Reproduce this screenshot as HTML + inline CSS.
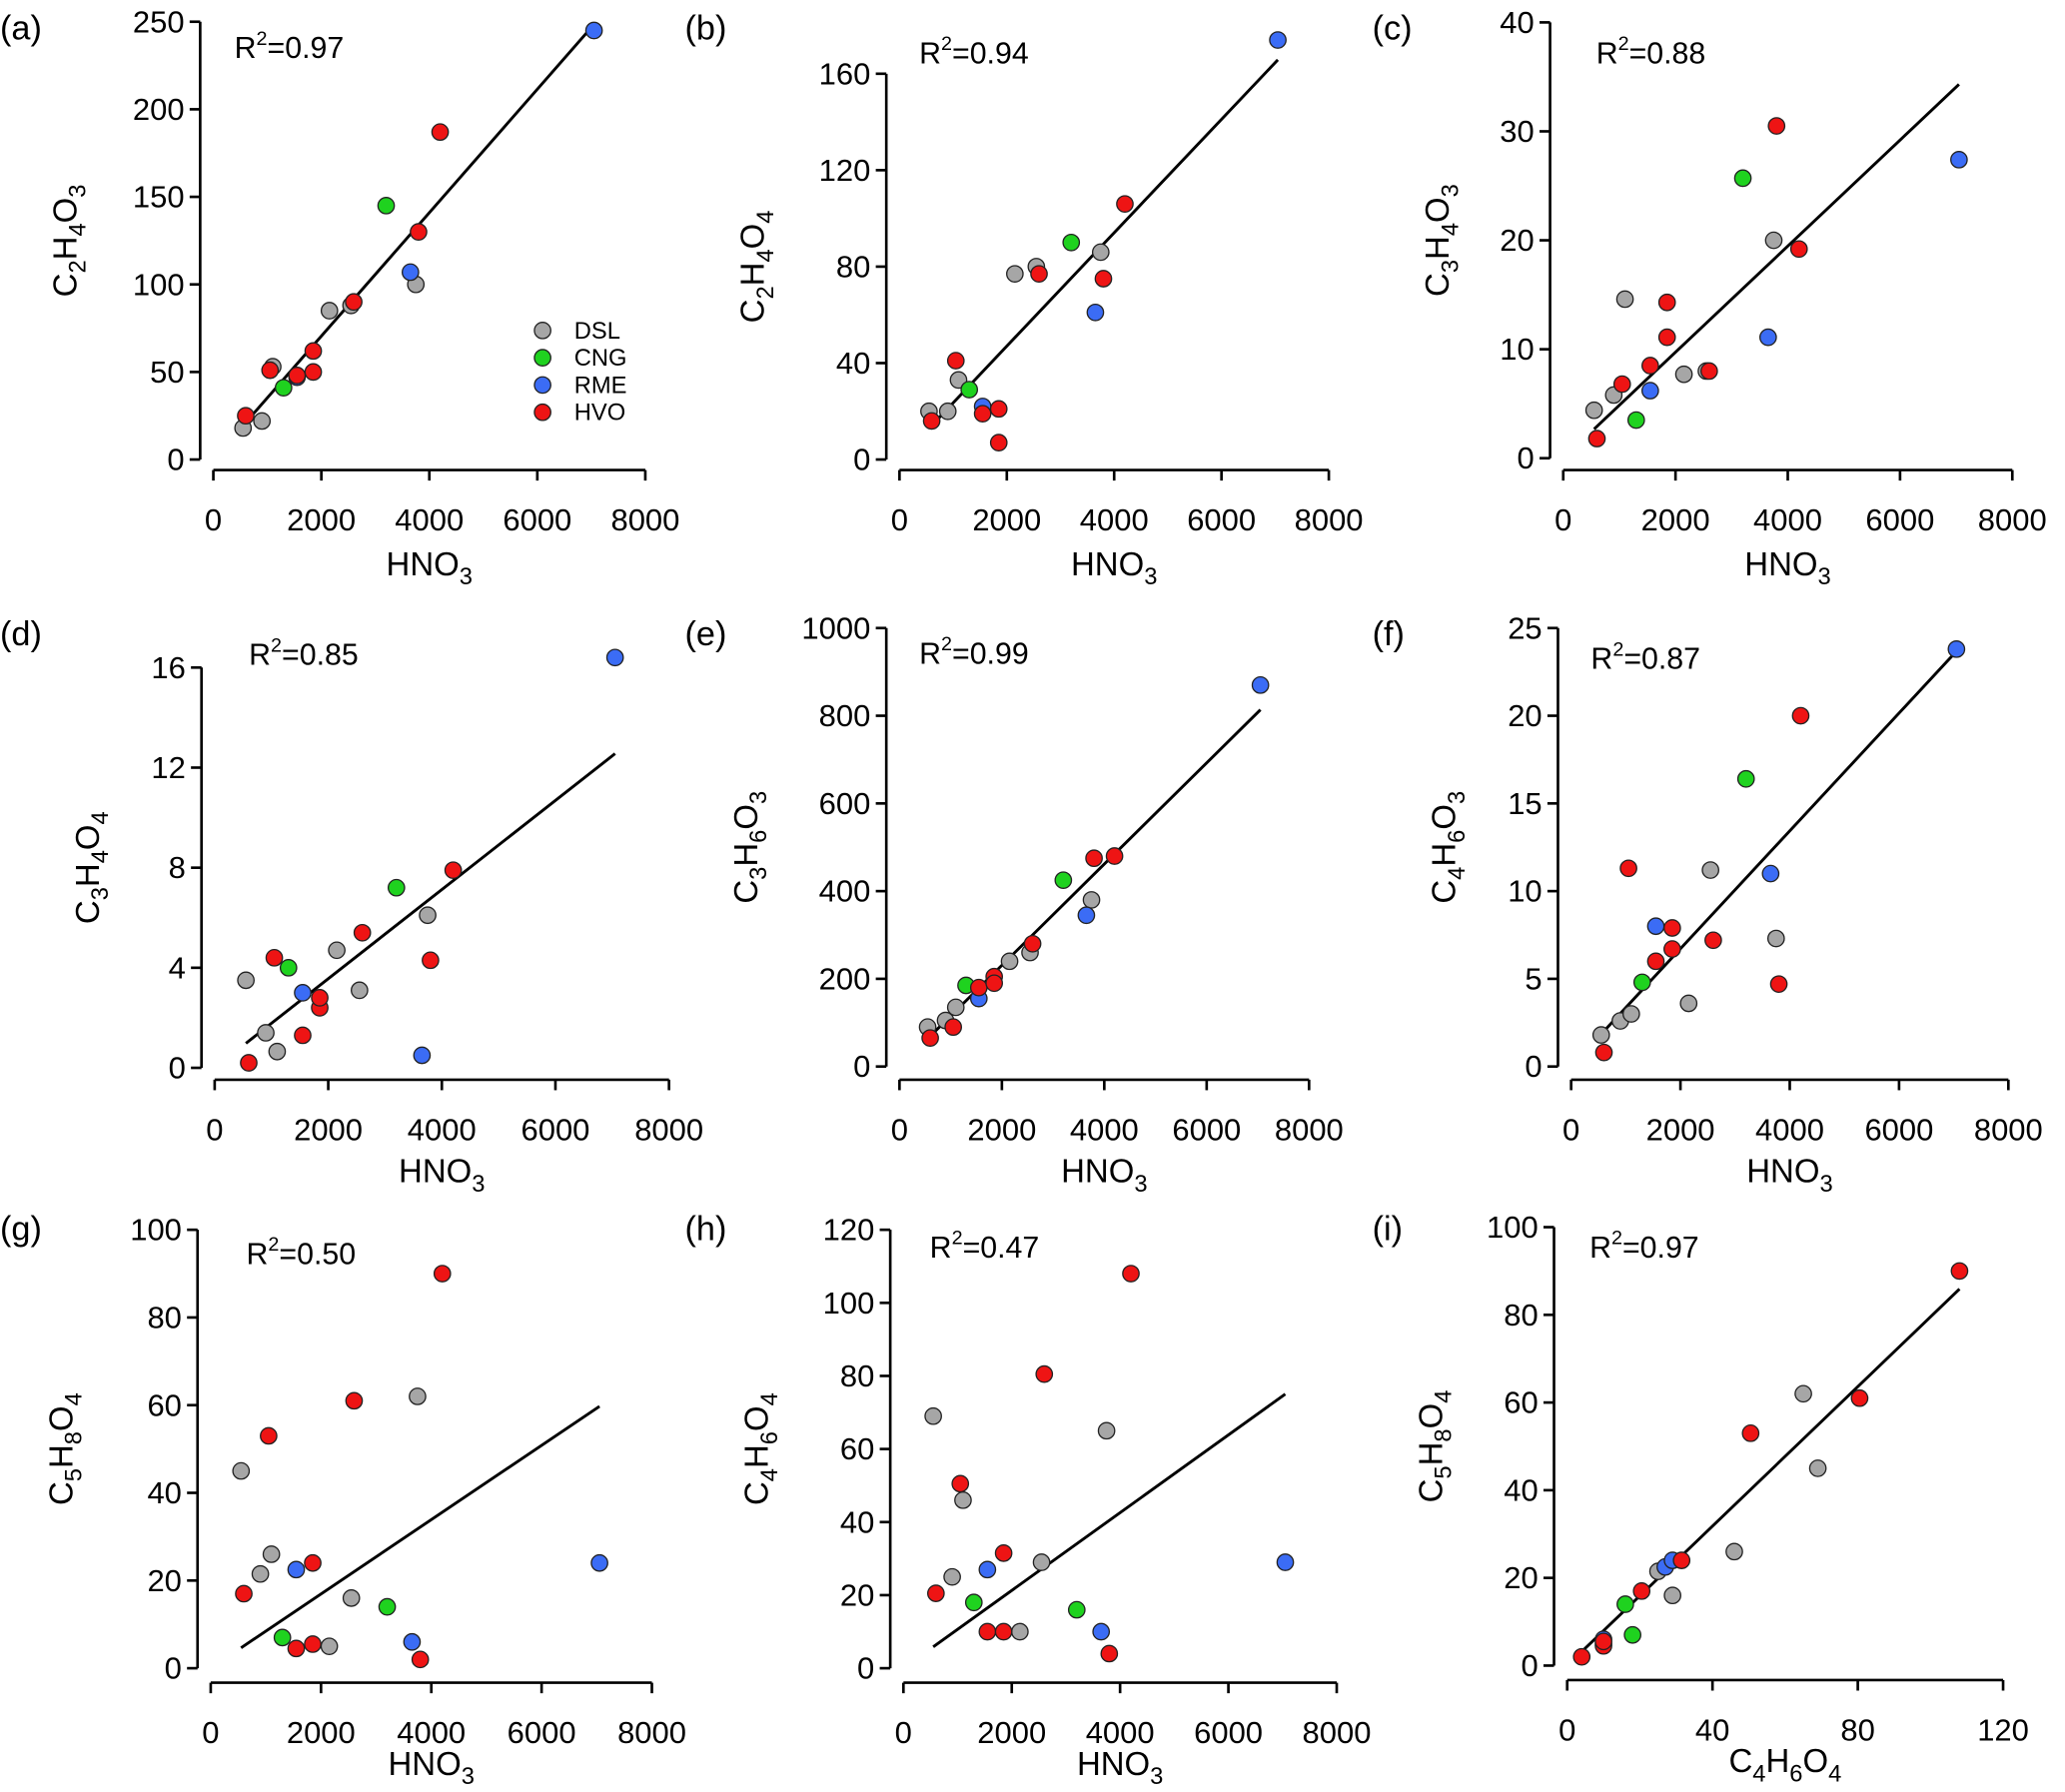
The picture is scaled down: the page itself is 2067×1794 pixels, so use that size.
<!DOCTYPE html>
<html><head><meta charset="utf-8"><style>
html,body{margin:0;padding:0;background:#fff}
svg{display:block;font-family:"Liberation Sans",Arial,sans-serif}
</style></head><body>
<svg id="chart" width="2067" height="1794" viewBox="0 0 1568 1361" preserveAspectRatio="none" xmlns="http://www.w3.org/2000/svg"></svg>
<script>
// Shared data (HNO3 values for each sample) and groups
const hno3 = [550,900,1100,2150,2550,3750,1300,3200,1550,3650,7050,600,1050,1550,1850,1850,2600,3800,4200];
const groups = ['DSL','DSL','DSL','DSL','DSL','DSL','CNG','CNG','RME','RME','RME','HVO','HVO','HVO','HVO','HVO','HVO','HVO','HVO'];
const yA = [18,22,53,85,88,100,41,145,47,107,245,25,51,48,62,50,90,130,187];
const yB = [20,20,33,77,80,86,29,90,22,61,174,16,41,19,21,7,77,75,106];
const yC = [4.4,5.8,14.6,7.7,8,20,3.5,25.7,6.2,11.1,27.4,1.8,6.8,8.5,11.1,14.3,8,30.5,19.2];
const yD = [3.5,1.4,0.65,4.7,3.1,6.1,4.0,7.2,3.0,0.5,16.4,0.2,4.4,1.3,2.4,2.8,5.4,4.3,7.9];
const yE = [90,105,135,240,260,380,185,425,155,345,870,65,90,180,205,190,280,475,480];
const yF = [1.8,2.6,3,3.6,11.2,7.3,4.8,16.4,8.0,11.0,23.8,0.8,11.3,6.0,7.9,6.7,7.2,4.7,20];
const yG = [45,21.5,26,5,16,62,7,14,22.5,6,24,17,53,4.5,24,5.5,61,2,90];
const yH = [69,25,46,10,29,65,18,16,27,10,29,20.5,50.5,10,31.5,10,80.5,4,108];
const r2Labels = ['0.97','0.94','0.88','0.85','0.99','0.87','0.50','0.47','0.97'];
const yLabels = ['C2H4O3','C2H4O4','C3H4O3','C3H4O4','C3H6O3','C4H6O3','C5H8O4','C4H6O4','C5H8O4'];
const xLabels = ['HNO3','HNO3','HNO3','HNO3','HNO3','HNO3','HNO3','HNO3','C4H6O4'];
const colors = {DSL:'#a6a6a6',CNG:'#1fd21f',RME:'#3b6cf5',HVO:'#ee1414'};

const panels = [
 {id:'a',xs:hno3,ys:yA,xd:[0,8000],xp:[162,490],xt:[0,2000,4000,6000,8000],yd:[0,250],yp:[349,16.5],yt:[0,50,100,150,200,250],sx:152,by:357,ylx:58,r2:[178,44],lt:[0,30],xto:80},
 {id:'b',xs:hno3,ys:yB,xd:[0,8000],xp:[683,1009],xt:[0,2000,4000,6000,8000],yd:[0,160],yp:[349,56],yt:[0,40,80,120,160],sx:673,by:357,ylx:580,r2:[698,48],lt:[520,30],xto:80},
 {id:'c',xs:hno3,ys:yC,xd:[0,8000],xp:[1187,1528],xt:[0,2000,4000,6000,8000],yd:[0,40],yp:[348,17],yt:[0,10,20,30,40],sx:1177,by:357,ylx:1100,r2:[1212,48],lt:[1042,30],xto:80},
 {id:'d',xs:hno3,ys:yD,xd:[0,8000],xp:[163,508],xt:[0,2000,4000,6000,8000],yd:[0,16],yp:[811,507],yt:[0,4,8,12,16],sx:153,by:820,ylx:75,r2:[189,505],lt:[0,490],xto:78},
 {id:'e',xs:hno3,ys:yE,xd:[0,8000],xp:[683,994],xt:[0,2000,4000,6000,8000],yd:[0,1000],yp:[810,477],yt:[0,200,400,600,800,1000],sx:673,by:820,ylx:575,r2:[698,504],lt:[520,490],xto:78},
 {id:'f',xs:hno3,ys:yF,xd:[0,8000],xp:[1193,1525],xt:[0,2000,4000,6000,8000],yd:[0,25],yp:[810,477],yt:[0,5,10,15,20,25],sx:1183,by:820,ylx:1105,r2:[1208,508],lt:[1042,490],xto:78},
 {id:'g',xs:hno3,ys:yG,xd:[0,8000],xp:[160,495],xt:[0,2000,4000,6000,8000],yd:[0,100],yp:[1267,934],yt:[0,20,40,60,80,100],sx:150,by:1278,ylx:55,r2:[187,960],lt:[0,942],xto:70},
 {id:'h',xs:hno3,ys:yH,xd:[0,8000],xp:[686,1015],xt:[0,2000,4000,6000,8000],yd:[0,120],yp:[1267,934],yt:[0,20,40,60,80,100,120],sx:676,by:1278,ylx:583,r2:[706,955],lt:[520,942],xto:70},
 {id:'i',xs:yH,ys:yG,xd:[0,120],xp:[1190,1521],xt:[0,40,80,120],yd:[0,100],yp:[1265,932],yt:[0,20,40,60,80,100],sx:1180,by:1276,ylx:1095,r2:[1207,955],lt:[1042,942],xto:70}
];

const NS='http://www.w3.org/2000/svg';
const svg=document.getElementById('chart');
function mk(tag,attrs,parent){const e=document.createElementNS(NS,tag);for(const k in attrs)e.setAttribute(k,attrs[k]);(parent||svg).appendChild(e);return e;}
function formula(t,str){
  let sub=false;
  for(const ch of str){
    const isD=/[0-9]/.test(ch);
    const ts=document.createElementNS(NS,'tspan');
    if(isD&&!sub){ts.setAttribute('dy','7');ts.setAttribute('font-size','18');sub=true;}
    else if(!isD&&sub){ts.setAttribute('dy','-7');sub=false;}
    else if(isD){ts.setAttribute('font-size','18');}
    ts.textContent=ch;t.appendChild(ts);
  }
}

panels.forEach((p,pi)=>{
  const X=v=>p.xp[0]+(v-p.xd[0])/(p.xd[1]-p.xd[0])*(p.xp[1]-p.xp[0]);
  const Y=v=>p.yp[0]+(v-p.yd[0])/(p.yd[1]-p.yd[0])*(p.yp[1]-p.yp[0]);
  const g=mk('g',{});
  
  
  const lt=mk('text',{x:p.lt[0],y:p.lt[1],'font-size':26,fill:'#000'},g);
  lt.textContent='('+p.id+')';
  
  
  const ya=mk('line',{x1:p.sx,x2:p.sx,y1:Y(p.yt[0]),y2:Y(p.yt[p.yt.length-1]),stroke:'#000','stroke-width':2},g);
  
  
  const xa=mk('line',{x1:X(p.xt[0]),x2:X(p.xt[p.xt.length-1]),y1:p.by,y2:p.by,stroke:'#000','stroke-width':2},g);
  
  
  p.yt.forEach(v=>{
    mk('line',{x1:p.sx-8,x2:p.sx,y1:Y(v),y2:Y(v),stroke:'#000','stroke-width':2},g);
    const t=mk('text',{x:p.sx-12,y:Y(v)+8,'font-size':23.5,'text-anchor':'end'},g);
    t.textContent=v;
    
    
  });
  p.xt.forEach(v=>{
    mk('line',{x1:X(v),x2:X(v),y1:p.by,y2:p.by+8,stroke:'#000','stroke-width':2},g);
    const t=mk('text',{x:X(v),y:p.by+46,'font-size':23.5,'text-anchor':'middle'},g);
    t.textContent=v;
    
    
  });
  const xt=mk('text',{x:(X(p.xt[0])+X(p.xt[p.xt.length-1]))/2,y:p.by+p.xto,'font-size':25,'text-anchor':'middle'},g);
  formula(xt,xLabels[pi]);
  
  
  const cy=(Y(p.yt[0])+Y(p.yt[p.yt.length-1]))/2;
  const yt=mk('text',{x:p.ylx,y:cy,'font-size':25,'text-anchor':'middle',transform:`rotate(-90 ${p.ylx} ${cy})`},g);
  formula(yt,yLabels[pi]);
  
  
  const rt=mk('text',{x:p.r2[0],y:p.r2[1],'font-size':23},g);
  rt.innerHTML='R<tspan dy="-10" font-size="15">2</tspan><tspan dy="10">='+r2Labels[pi]+'</tspan>';
  
  
  // regression through origin
  const n=p.xs.length;let sxy=0,sxx=0;
  for(let i=0;i<n;i++){sxy+=p.xs[i]*p.ys[i];sxx+=p.xs[i]*p.xs[i];}
  const b=sxy/sxx;
  const x0=Math.min(...p.xs),x1=Math.max(...p.xs);
  const fl=mk('line',{x1:X(x0),y1:Y(b*x0),x2:X(x1),y2:Y(b*x1),stroke:'#000','stroke-width':2.2},g);
  
  
  for(let i=0;i<n;i++){
    const c=mk('circle',{cx:X(p.xs[i]),cy:Y(p.ys[i]),r:6.2,fill:colors[groups[i]],stroke:'#222','stroke-width':1},g);
    
    
  }
  if(p.id==='a'){
    const leg=mk('g',{},g);
    
    
    ['DSL','CNG','RME','HVO'].forEach((k,j)=>{
      const yy=251+j*20.7;
      const e=mk('g',{},leg);
      
      
      mk('circle',{cx:412,cy:yy,r:6.2,fill:colors[k],stroke:'#222','stroke-width':1},e);
      const t=mk('text',{x:436,y:yy+6,'font-size':18},e);t.textContent=k;
    });
  }
});
</script>
</body></html>
